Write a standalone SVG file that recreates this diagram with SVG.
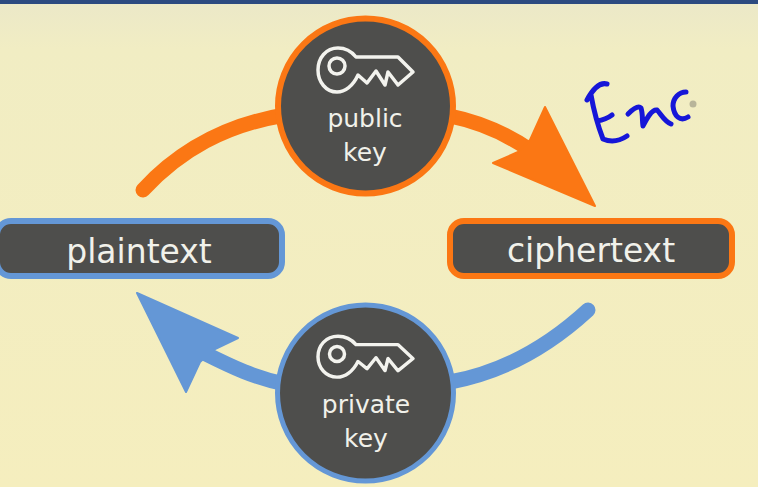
<svg xmlns="http://www.w3.org/2000/svg" width="758" height="487" viewBox="0 0 758 487">
<defs>
<linearGradient id="bg" x1="0" y1="0" x2="0" y2="1"><stop offset="0" stop-color="#ebe8c8"/><stop offset="0.1" stop-color="#f1edc3"/><stop offset="1" stop-color="#f5eebe"/></linearGradient>
<path id="key" d="M-27 -25 C-19 -25 -13 -21 -9 -16 L33 -16 L48 -1 L33 12 L23 -1 L20 12 L11 -2 L2 10 L-7 2 C-12 13 -20 19 -28 19 C-39 19 -47 9 -47 -3 C-47 -15 -39 -25 -27 -25 Z"/>
</defs>
<style>
.t{font-family:"DejaVu Sans","Liberation Sans",sans-serif;fill:#f1f1ea;text-anchor:middle}
.box,.disc{fill:#4e4e4c}
.or{stroke:#fb7714}
.bl{stroke:#6497d6}
.arc{fill:none;stroke-width:15}
.keyicon{fill:none;stroke:#f3f3ee;stroke-width:3.5;stroke-linejoin:round}
</style>
<rect width="758" height="487" fill="url(#bg)"/>
<rect width="758" height="4" fill="#2c4a80"/>
<g id="connectors">
<path class="arc or" stroke-linecap="round" d="M143 190 C180 150 225 125 285 115"/>
<path class="arc or" d="M450 116 C480 122 505 133 530 150"/>
<path d="M545 107 L595 206 L493 163 L518 152 L530 140 Z" fill="#fb7714" stroke="#fb7714" stroke-width="2" stroke-linejoin="round"/>
<path class="arc bl" stroke-linecap="round" d="M588 310 C550 345 505 372 450 382"/>
<path class="arc bl" d="M285 384 C255 378 232 367 204 353"/>
<path d="M137 293 L238 338 L213 350 L200 362 L186 392 Z" fill="#6497d6" stroke="#6497d6" stroke-width="2" stroke-linejoin="round"/>
</g>
<g id="plaintext"><rect class="box bl" x="-3" y="221" width="285" height="55" rx="14" stroke-width="6"/><text class="t" x="139" y="263" font-size="33">plaintext</text></g>
<g id="ciphertext"><rect class="box or" x="450" y="221" width="282" height="55" rx="14" stroke-width="6"/><text class="t" x="591" y="262" font-size="33">ciphertext</text></g>
<g id="public-key"><circle class="disc or" cx="365.500" cy="106" r="87.500" stroke-width="6"/><use href="#key" class="keyicon" transform="translate(365 73)"/><circle class="keyicon" cx="337" cy="66" r="8"/><text class="t" x="365" y="127" font-size="25">public</text><text class="t" x="365" y="161" font-size="25">key</text></g>
<g id="private-key"><circle class="disc bl" cx="365.500" cy="393" r="88" stroke-width="5"/><use href="#key" class="keyicon" transform="translate(365 359.500) scale(1 .93)"/><circle class="keyicon" cx="337" cy="354" r="7.500"/><text class="t" x="366" y="413" font-size="25">private</text><text class="t" x="366" y="447" font-size="25">key</text></g>
<g id="handwriting" fill="none" stroke="#1616d8" stroke-width="5" stroke-linecap="round" stroke-linejoin="round">
<path d="M607 84 C600 82 594 87 587 100 M591 95 C594 112 598 126 603 139 C612 143 621 140 627 136 M597 121 C603 120 608 118 612 115"/>
<path d="M628 114 C633 109 638 105 641 108 C643 114 642 120 643 126 C647 118 652 109 657 110 C661 114 664 121 671 124"/>
<path d="M686 92 C679 92 673 98 673 106 C674 116 680 122 688 117"/>
</g>
<circle cx="693" cy="104" r="3.500" fill="#b8b59a"/>
</svg>
